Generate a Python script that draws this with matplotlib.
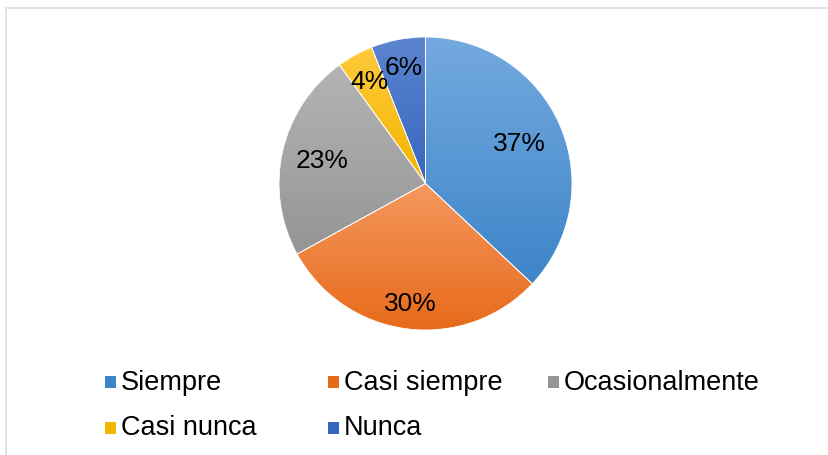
import numpy as np
import matplotlib
matplotlib.use("Agg")
import matplotlib.pyplot as plt
from matplotlib.colors import LinearSegmentedColormap
from matplotlib.patches import Rectangle

plt.rcParams['font.family'] = ['Liberation Sans', 'DejaVu Sans']

# -------------------------
# Datos
# -------------------------
categorias = ["Siempre", "Casi siempre", "Ocasionalmente", "Casi nunca", "Nunca"]
porcentajes = [37, 30, 23, 4, 6]
# (claro arriba, oscuro abajo) para el degradado de cada sector
colores_sup = ["#74a9df", "#f5985f", "#b4b4b4", "#ffca3c", "#5b85ce"]
colores_inf = ["#3d85c9", "#e76a1a", "#959595", "#f2b500", "#3766c0"]
dist_etiquetas = [0.70, 0.82, 0.72, 0.80, 0.81]

W, H = 829, 456
fig = plt.figure(figsize=(W / 100, H / 100), dpi=100)

# marco exterior
fig.patches.append(Rectangle((6 / W, -0.1), 1.1, (H - 9) / H + 0.1,
                             transform=fig.transFigure, fill=False,
                             edgecolor="#d9dde3", linewidth=1.2))

# -------------------------
# Pastel
# -------------------------
cx, cy, r = 425.5, 184.5, 146.5
ax = fig.add_axes([(cx - r) / W, (H - cy - r) / H, 2 * r / W, 2 * r / H])
ax.set_xlim(-1, 1)
ax.set_ylim(-1, 1)
ax.set_aspect("equal")
ax.axis("off")

wedges, _ = ax.pie(porcentajes, startangle=90, counterclock=False, radius=1,
                   colors=colores_inf,
                   wedgeprops=dict(edgecolor="white", linewidth=0.6))

for w, c1, c2 in zip(wedges, colores_sup, colores_inf):
    bb = w.get_path().get_extents()
    cmap = LinearSegmentedColormap.from_list("g", [c2, c1])
    grad = np.linspace(0, 1, 256).reshape(-1, 1)
    im = ax.imshow(grad, cmap=cmap, origin="lower", aspect="auto",
                   extent=[bb.x0, bb.x1, bb.y0, bb.y1], zorder=1.5)
    im.set_clip_path(w)
    w.set_facecolor("none")
    w.set_zorder(2)

ax.set_xlim(-1, 1)
ax.set_ylim(-1, 1)

for w, p, d in zip(wedges, porcentajes, dist_etiquetas):
    ang = np.deg2rad((w.theta1 + w.theta2) / 2)
    ax.text(d * np.cos(ang), d * np.sin(ang), f"{p}%", ha="center",
            va="center", fontsize=19, color="black", zorder=3)

# -------------------------
# Leyenda (filas de 3 columnas)
# -------------------------
col_x = [105, 328, 548]
fila_y = [383, 428.5]
for i, (nombre, c1, c2) in enumerate(zip(categorias, colores_sup, colores_inf)):
    x = col_x[i % 3]
    y = fila_y[i // 3]
    fig.patches.append(Rectangle((x / W, (H - y - 6) / H), 11 / W, 12 / H,
                                 transform=fig.transFigure,
                                 facecolor=c2, edgecolor="none"))
    fig.text((x + 16) / W, (H - y) / H, nombre, fontsize=19.5,
             ha="left", va="center")

fig.savefig("out.png", dpi=100)
